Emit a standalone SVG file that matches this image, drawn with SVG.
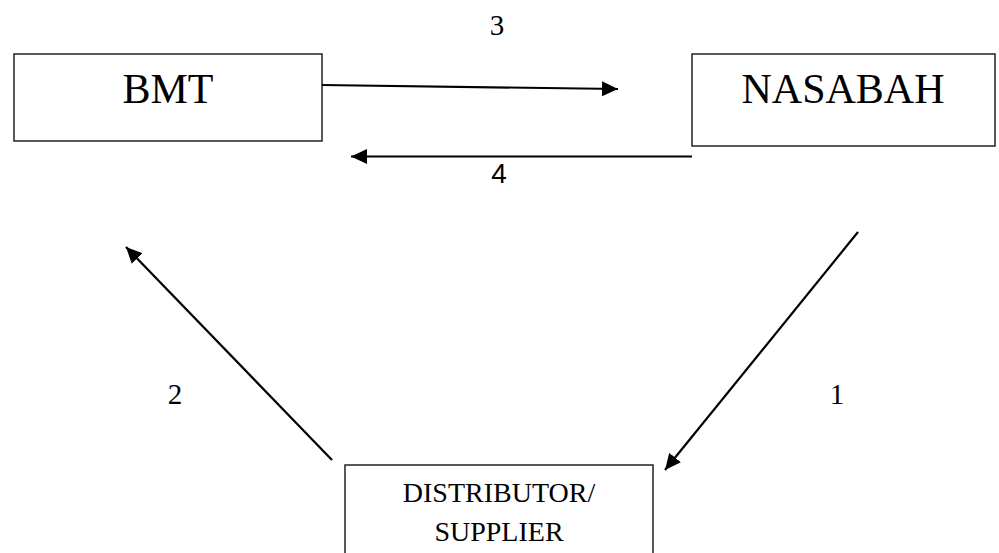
<svg xmlns="http://www.w3.org/2000/svg" width="999" height="553" viewBox="0 0 999 553">
<style>
.box{fill:#fff;stroke:#222;stroke-width:1.5}
.t{fill:#000;text-anchor:middle}
.conn{stroke:#000;stroke-width:2.2;fill:none;marker-end:url(#ah)}
</style>
<defs>
<marker id="ah" markerUnits="userSpaceOnUse" markerWidth="17" markerHeight="16" refX="16" refY="8" orient="auto">
<path d="M0,0.5 L16,8 L0,15.5 Z" fill="#000"/>
</marker>
</defs>
<rect width="999" height="553" fill="#fff"/>
<g id="bmt">
<rect class="box" x="14" y="54" width="308" height="87"/>
<text class="t" x="168" y="103" font-family="Liberation Serif, Times New Roman, serif" font-size="42">BMT</text>
</g>
<g id="nasabah">
<rect class="box" x="692" y="54" width="303" height="92"/>
<text class="t" x="843" y="103" font-family="Liberation Serif, Times New Roman, serif" font-size="42">NASABAH</text>
</g>
<g id="distributor">
<rect class="box" x="345" y="465" width="308" height="100"/>
<text class="t" x="499" y="502" font-family="Liberation Serif, Times New Roman, serif" font-size="28">DISTRIBUTOR/</text>
<text class="t" x="499" y="541" font-family="Liberation Serif, Times New Roman, serif" font-size="28">SUPPLIER</text>
</g>
<g id="connectors">
<line class="conn" x1="322" y1="85" x2="618" y2="89"/>
<line class="conn" x1="692" y1="156.5" x2="351" y2="156.5"/>
<line class="conn" x1="332" y1="460" x2="126" y2="247"/>
<line class="conn" x1="858" y1="232" x2="665" y2="470"/>
</g>
<g id="labels">
<text class="t" x="497" y="35" font-family="Liberation Serif, Times New Roman, serif" font-size="29">3</text>
<text class="t" x="499" y="183" font-family="Liberation Sans, Arial, sans-serif" font-size="28">4</text>
<text class="t" x="175" y="404" font-family="Liberation Serif, Times New Roman, serif" font-size="29">2</text>
<text class="t" x="837" y="404" font-family="Liberation Serif, Times New Roman, serif" font-size="29">1</text>
</g>
</svg>
